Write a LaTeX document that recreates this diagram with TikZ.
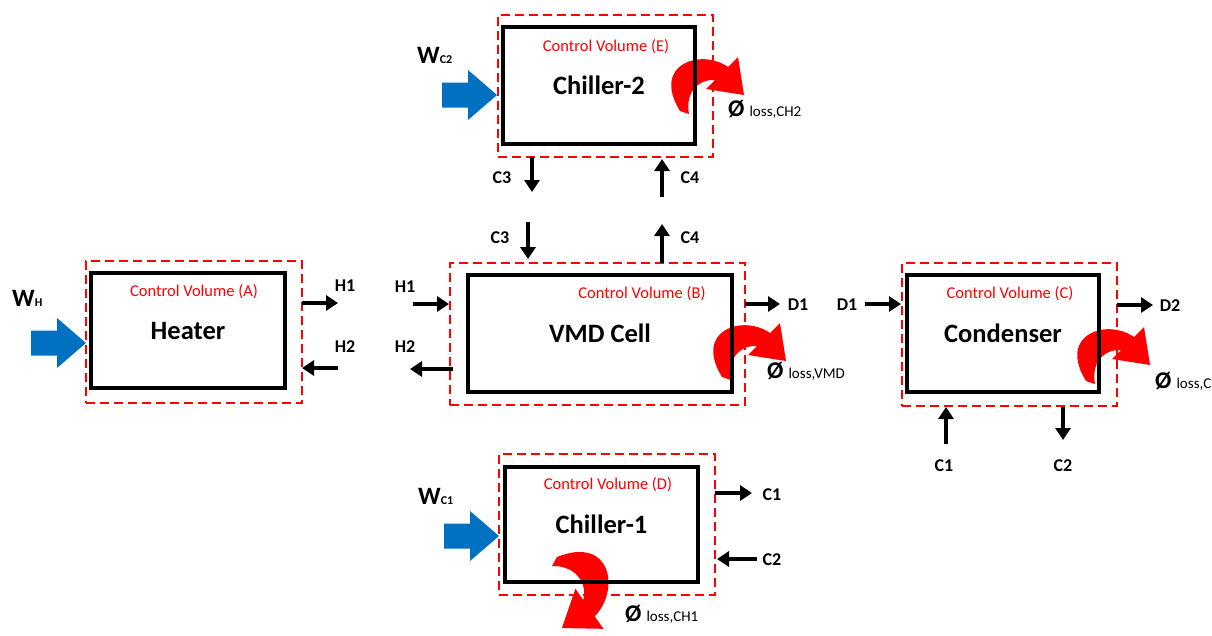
\documentclass[tikz,border=0pt]{standalone}
\usepackage{fontspec}
\setmainfont{Carlito}
\usetikzlibrary{arrows.meta}
\definecolor{cvred}{RGB}{255,0,0}
\definecolor{wblue}{RGB}{0,112,192}
\tikzset{
  pics/lossarrow/.style={code={
    \fill[cvred] (0,0) .. controls (-4,20) and (8,35) .. (26,34) -- (17,25) -- (55,19) -- (49,57) -- (39,47)
      .. controls (12,66) and (-38,50) .. (-9,3) -- cycle;
  }},
  pics/workarrow/.style={code={
    \fill[wblue] (0,0) -- (-29,25) -- (-29,12.5) -- (-55,12.5) -- (-55,-12.5) -- (-29,-12.5) -- (-29,-25) -- cycle;
  }},
  cvbox/.style={draw=cvred, line width=2pt, dash pattern=on 9pt off 5pt, inner sep=0, outer sep=0},
  unitbox/.style={draw=black, line width=4pt, inner sep=0, outer sep=0, font=\fontsize{26.5}{26.5}\selectfont\bfseries},
  flow/.style={line width=3.2pt, -{Triangle[length=12pt,width=15pt]}},
  lbl/.style={font=\fontsize{18}{18}\selectfont\bfseries, inner sep=0},
  cvlbl/.style={text=cvred, font=\fontsize{16.5}{16.5}\selectfont, inner sep=0},
  wlbl/.style={anchor=base west, inner sep=0, font=\fontsize{25}{25}\selectfont\bfseries},
  losslbl/.style={anchor=base west, inner sep=0, font=\fontsize{24}{24}\selectfont\bfseries},
}
\newcommand{\wsub}[1]{{\fontsize{12}{12}\selectfont\bfseries #1}}
\newcommand{\losssub}[1]{\hspace{5pt}{\fontsize{15}{15}\selectfont\mdseries #1}}
\begin{document}
\begin{tikzpicture}[x=1pt,y=1pt]
\useasboundingbox (0,0) rectangle (1212,-635);

% heat-loss arrows (drawn below the boxes)
\pic at (689,-114) {lossarrow};
\pic at (731,-380) {lossarrow};
\pic at (1095,-384) {lossarrow};
\pic[rotate=-100, scale=1.08] at (552,-566) {lossarrow};

% work input arrows
\pic at (86,-343) {workarrow};
\pic at (497,-95) {workarrow};
\pic at (499,-536) {workarrow};

% control volumes
\node[cvbox, minimum width=216pt, minimum height=142pt] (cvA) at (194,-332) {};
\node[cvbox, minimum width=295pt, minimum height=142pt] (cvB) at (597.5,-334) {};
\node[cvbox, minimum width=215pt, minimum height=143pt] (cvC) at (1009.5,-334.5) {};
\node[cvbox, minimum width=216pt, minimum height=141pt] (cvD) at (607,-524.5) {};
\node[cvbox, minimum width=215pt, minimum height=142pt] (cvE) at (605.5,-86) {};

% units
\node[unitbox, minimum width=194pt, minimum height=115pt] (heater) at (188,-330.5) {Heater};
\node[unitbox, minimum width=264pt, minimum height=117pt] (vmd) at (600,-333.5) {VMD Cell};
\node[unitbox, minimum width=192pt, minimum height=117pt] (cond) at (1003,-333.5) {Condenser};
\node[unitbox, minimum width=193pt, minimum height=115pt] (ch1) at (601.5,-524.5) {Chiller-1};
\node[unitbox, minimum width=192pt, minimum height=117pt] (ch2) at (599,-85.5) {Chiller-2};

% control volume labels
\node[cvlbl] (cvAl) at (194,-292) {Control Volume (A)};
\node[cvlbl] (cvBl) at (642,-294) {Control Volume (B)};
\node[cvlbl] (cvCl) at (1010,-294) {Control Volume (C)};
\node[cvlbl] (cvDl) at (608,-485) {Control Volume (D)};
\node[cvlbl] (cvEl) at (606,-47) {Control Volume (E)};

% work labels
\node[wlbl] (wh) at (12,-306) {W\wsub{H}};
\node[wlbl] (wc2) at (417,-63) {W\wsub{C2}};
\node[wlbl] (wc1) at (418,-504) {W\wsub{C1}};

% loss labels
\node[losslbl] (lch2) at (728,-116) {Ø\losssub{loss,CH2}};
\node[losslbl] (lvmd) at (767,-378) {Ø\losssub{loss,VMD}};
\node[losslbl] (lc) at (1155,-388) {Ø\losssub{loss,C}};
\node[losslbl] (lch1) at (625,-621) {Ø\losssub{loss,CH1}};

% flow end points
\coordinate (aH1a) at (302,-303);  \coordinate (aH1b) at (338,-303);
\coordinate (aH2a) at (338,-368);  \coordinate (aH2b) at (302,-368);
\coordinate (bH1a) at (413,-304);  \coordinate (bH1b) at (449,-304);
\coordinate (bH2a) at (453,-369);  \coordinate (bH2b) at (410,-369);
\coordinate (bD1a) at (745,-304);  \coordinate (bD1b) at (780,-304);
\coordinate (bC3a) at (528,-222);  \coordinate (bC3b) at (528,-259);
\coordinate (bC4a) at (662,-263);  \coordinate (bC4b) at (662,-224);
\coordinate (eC3a) at (532,-157);  \coordinate (eC3b) at (532,-192);
\coordinate (eC4a) at (662,-197);  \coordinate (eC4b) at (662,-159);
\coordinate (cD1a) at (865,-304);  \coordinate (cD1b) at (901,-304);
\coordinate (cD2a) at (1117,-305); \coordinate (cD2b) at (1153,-305);
\coordinate (cC1a) at (946,-444);  \coordinate (cC1b) at (946,-407);
\coordinate (cC2a) at (1063,-407); \coordinate (cC2b) at (1063,-440);
\coordinate (dC1a) at (715,-493);  \coordinate (dC1b) at (752,-493);
\coordinate (dC2a) at (757,-559);  \coordinate (dC2b) at (717,-559);

\draw[flow] (aH1a) -- (aH1b);
\draw[flow] (aH2a) -- (aH2b);
\draw[flow] (bH1a) -- (bH1b);
\draw[flow] (bH2a) -- (bH2b);
\draw[flow] (bD1a) -- (bD1b);
\draw[flow] (bC3a) -- (bC3b);
\draw[flow] (bC4a) -- (bC4b);
\draw[flow] (eC3a) -- (eC3b);
\draw[flow] (eC4a) -- (eC4b);
\draw[flow] (cD1a) -- (cD1b);
\draw[flow] (cD2a) -- (cD2b);
\draw[flow] (cC1a) -- (cC1b);
\draw[flow] (cC2a) -- (cC2b);
\draw[flow] (dC1a) -- (dC1b);
\draw[flow] (dC2a) -- (dC2b);

% flow labels
\node[lbl] (laH1) at (345,-286) {H1};
\node[lbl] (laH2) at (345,-347) {H2};
\node[lbl] (lbH1) at (405,-287) {H1};
\node[lbl] (lbH2) at (405,-347) {H2};
\node[lbl] (lbD1) at (798,-305) {D1};
\node[lbl] (lbC3) at (500,-238) {C3};
\node[lbl] (lbC4) at (690,-238) {C4};
\node[lbl] (leC3) at (502,-178) {C3};
\node[lbl] (leC4) at (690,-178) {C4};
\node[lbl] (lcD1) at (847,-305) {D1};
\node[lbl] (lcD2) at (1170,-306) {D2};
\node[lbl] (lcC1) at (944,-466) {C1};
\node[lbl] (lcC2) at (1063,-466) {C2};
\node[lbl] (ldC1) at (772,-495) {C1};
\node[lbl] (ldC2) at (772,-560) {C2};
\end{tikzpicture}
\end{document}
